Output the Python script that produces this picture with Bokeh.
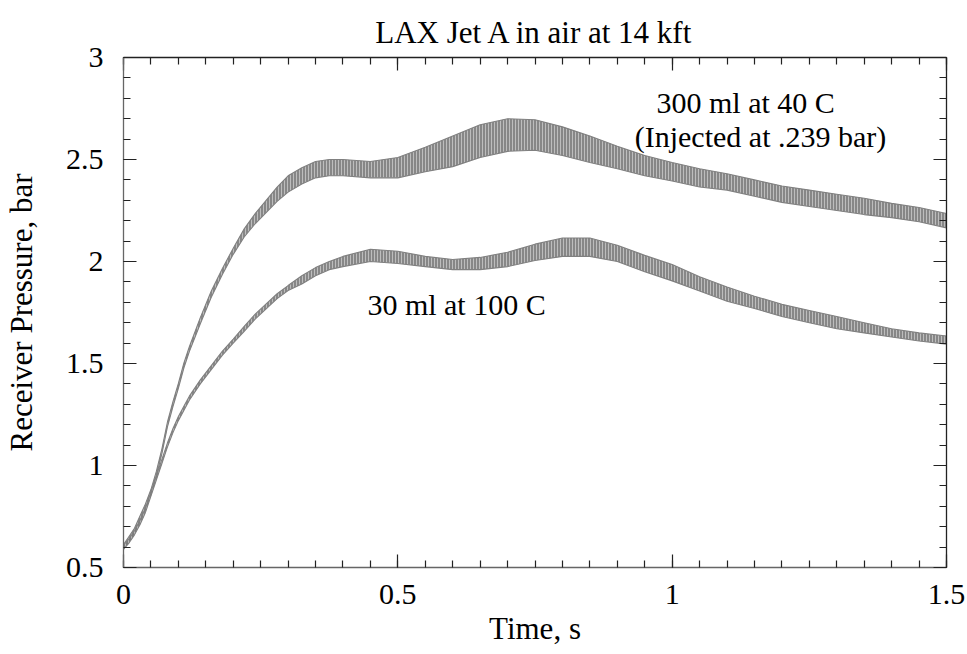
import numpy as np
from bokeh.plotting import figure
from bokeh.models import (LinearAxis, FixedTicker, Range1d, Label, ColumnDataSource,
                          CustomLabelingPolicy)
from bokeh.embed import file_html
from bokeh.resources import INLINE

# ---------------- data ----------------
t_grid = [0, 0.01, 0.02, 0.03, 0.04, 0.05, 0.06, 0.07, 0.08, 0.09, 0.10, 0.11,
          0.12, 0.14, 0.16, 0.18, 0.20, 0.22, 0.24, 0.26, 0.28, 0.30, 0.325,
          0.35, 0.375, 0.40, 0.45, 0.50, 0.55, 0.60, 0.65, 0.70, 0.75, 0.80,
          0.85, 0.90, 0.95, 1.00, 1.05, 1.10, 1.15, 1.20, 1.25, 1.30, 1.35,
          1.40, 1.45, 1.50]

# 300 ml at 40 C : lower and upper edge of the oscillating trace (bar)
p300_low = [0.588, 0.628, 0.668, 0.728, 0.788, 0.858, 0.948, 1.058, 1.188, 1.288,
            1.378, 1.478, 1.558, 1.695, 1.825, 1.935, 2.035, 2.12, 2.185, 2.24,
            2.295, 2.34, 2.38, 2.41, 2.42, 2.42, 2.41, 2.41, 2.44, 2.465, 2.51,
            2.54, 2.545, 2.52, 2.485, 2.455, 2.42, 2.395, 2.365, 2.35, 2.32,
            2.29, 2.27, 2.25, 2.23, 2.215, 2.195, 2.165]
p300_high = [0.612, 0.652, 0.692, 0.752, 0.812, 0.882, 0.972, 1.082, 1.212, 1.312,
             1.402, 1.502, 1.582, 1.725, 1.855, 1.965, 2.065, 2.16, 2.235, 2.30,
             2.365, 2.42, 2.46, 2.49, 2.50, 2.50, 2.49, 2.51, 2.56, 2.615, 2.67,
             2.70, 2.695, 2.66, 2.615, 2.565, 2.52, 2.485, 2.455, 2.43, 2.40,
             2.37, 2.35, 2.33, 2.31, 2.285, 2.265, 2.235]

# 30 ml at 100 C
p30_low = [0.59, 0.62, 0.66, 0.71, 0.77, 0.85, 0.93, 1.01, 1.09, 1.16, 1.22, 1.27,
           1.32, 1.40, 1.47, 1.54, 1.60, 1.658, 1.718, 1.768, 1.818, 1.858, 1.89,
           1.93, 1.96, 1.975, 2.00, 1.99, 1.975, 1.96, 1.96, 1.975, 2.005, 2.025,
           2.025, 2.00, 1.95, 1.905, 1.855, 1.805, 1.77, 1.73, 1.70, 1.67, 1.65,
           1.63, 1.61, 1.595]
p30_high = [0.61, 0.64, 0.68, 0.73, 0.79, 0.87, 0.95, 1.03, 1.11, 1.18, 1.24, 1.29,
            1.34, 1.42, 1.49, 1.56, 1.62, 1.682, 1.742, 1.792, 1.842, 1.882, 1.93,
            1.97, 2.00, 2.025, 2.06, 2.05, 2.025, 2.01, 2.02, 2.045, 2.085, 2.115,
            2.115, 2.08, 2.03, 1.985, 1.925, 1.875, 1.83, 1.79, 1.76, 1.73, 1.70,
            1.67, 1.65, 1.635]

x_ticks = [0, 0.5, 1, 1.5]
x_tick_labels = ["0", "0.5", "1", "1.5"]
y_ticks = [0.5, 1, 1.5, 2, 2.5, 3]
y_tick_labels = ["0.5", "1", "1.5", "2", "2.5", "3"]

title_text = "LAX Jet A in air at 14 kft"
x_label = "Time, s"
y_label = "Receiver Pressure, bar"
note_300_a = "300 ml at 40 C"
note_300_b = "(Injected at .239 bar)"
note_30 = "30 ml at 100 C"

# ---------------- figure ----------------
FONT = "Liberation Serif"
FS = "30px"
FS_BIG = "31px"
TRACE = "#808080"

p = figure(width=967, height=654, output_backend="svg", toolbar_location=None,
           x_range=Range1d(0, 1.5), y_range=Range1d(0.5, 3),
           x_axis_location=None, y_axis_location=None,
           min_border_left=123, min_border_right=21,
           min_border_top=57, min_border_bottom=87,
           background_fill_color="white", border_fill_color="white")
p.outline_line_color = None
p.grid.visible = False

p.title.text = title_text
p.title.text_font = FONT
p.title.text_font_size = FS_BIG
p.title.text_font_style = "normal"
p.title.align = "center"
p.title.text_color = "black"
p.title.standoff = 15

x_minor = [round(v, 3) for v in np.arange(0, 1.5001, 0.05)]
y_minor = [round(v, 3) for v in np.arange(0.5, 3.0001, 0.1)]

no_labels = CustomLabelingPolicy(code="""
    for (const i of indices) {
        indices.unset(i)
    }
    return indices
""")


def style_axis(ax, ticks, minor, labels, show_labels, line_color):
    ax.ticker = FixedTicker(ticks=ticks, minor_ticks=minor)
    ax.major_tick_in = 13
    ax.major_tick_out = 0
    ax.minor_tick_in = 7
    ax.minor_tick_out = 0
    ax.axis_line_color = line_color
    ax.axis_line_width = 1.3
    ax.major_tick_line_color = "#222222"
    ax.minor_tick_line_color = "#222222"
    ax.major_tick_line_width = 1.2
    ax.minor_tick_line_width = 1.2
    if show_labels:
        ax.major_label_overrides = {t: s for t, s in zip(ticks, labels)}
        ax.major_label_text_font = FONT
        ax.major_label_text_font_size = FS
        ax.major_label_text_color = "black"
        ax.axis_label_text_font = FONT
        ax.axis_label_text_font_size = FS_BIG
        ax.axis_label_text_font_style = "normal"
        ax.axis_label_text_color = "black"
    else:
        ax.major_label_policy = no_labels
        ax.major_label_text_font_size = "0px"
        ax.major_label_standoff = 0


xb = LinearAxis(axis_label=x_label)
style_axis(xb, x_ticks, x_minor, x_tick_labels, True, "#666666")
xb.major_label_standoff = 17
xb.axis_label_standoff = 4
p.add_layout(xb, "below")

yl = LinearAxis(axis_label=y_label)
style_axis(yl, y_ticks, y_minor, y_tick_labels, True, "#666666")
yl.major_label_standoff = 20
yl.axis_label_standoff = 24
p.add_layout(yl, "left")

xt = LinearAxis()
style_axis(xt, x_ticks, x_minor, x_tick_labels, False, "#222222")
p.add_layout(xt, "above")

yr = LinearAxis()
style_axis(yr, y_ticks, y_minor, y_tick_labels, False, "#222222")
p.add_layout(yr, "right")

# ---------------- traces ----------------
for lo, hi in ((p300_low, p300_high), (p30_low, p30_high)):
    src = ColumnDataSource(dict(t=t_grid, lo=lo, hi=hi))
    p.varea(x="t", y1="lo", y2="hi", source=src,
            fill_color="#7a7a7a", fill_alpha=0.9,
            hatch_pattern="vertical_line", hatch_color="white",
            hatch_scale=3.0, hatch_weight=1.0, hatch_alpha=0.45)
    p.line(x="t", y="lo", source=src, line_color=TRACE, line_width=1.1)
    p.line(x="t", y="hi", source=src, line_color=TRACE, line_width=1.1)

# ---------------- annotations ----------------
for txt, x, y in ((note_300_a, 1.134, 2.78), (note_300_b, 1.161, 2.615),
                  (note_30, 0.607, 1.79)):
    p.add_layout(Label(x=x, y=y, text=txt, text_font=FONT, text_font_size=FS,
                       text_color="black", text_align="center",
                       text_baseline="alphabetic"))

open("out.html", "w").write(file_html(p, INLINE))
